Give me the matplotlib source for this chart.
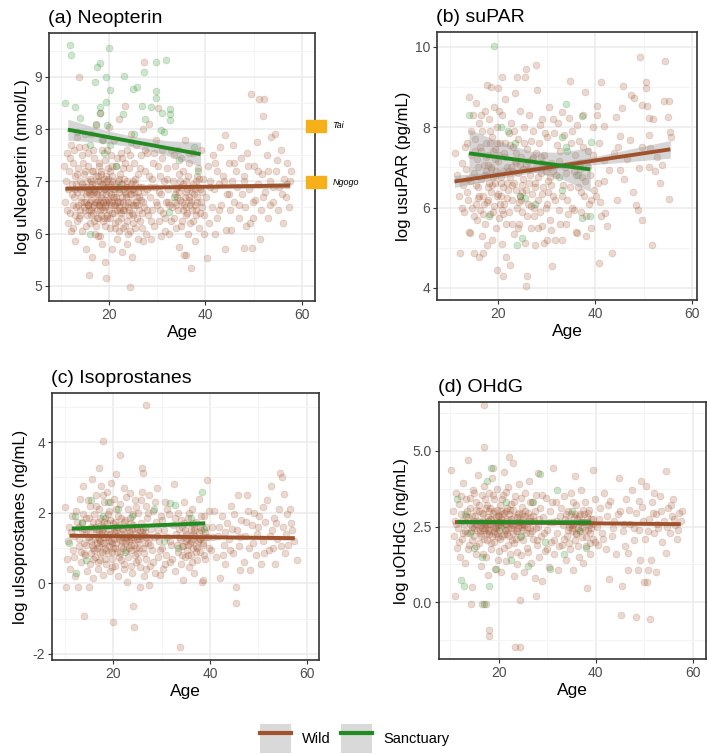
import numpy as np
import matplotlib
matplotlib.use("Agg")
import matplotlib.pyplot as plt
from matplotlib.lines import Line2D
from matplotlib.patches import Patch, Rectangle
from matplotlib.legend_handler import HandlerTuple

plt.rcParams["font.family"] = ["Liberation Sans", "DejaVu Sans"]

WILD = "#A0522D"
SANC = "#228B22"

# ---------------- (a) Neopterin ----------------
neo_wild = [
    (10.8, 7.3), (11.0, 6.6), (11.2, 7.0), (11.3, 7.55), (11.5, 6.2), (11.6, 6.85), (11.8, 7.2), (12.0, 6.4),
    (12.1, 7.7), (12.3, 6.95), (12.5, 6.1), (12.6, 7.35), (12.8, 6.7), (13.0, 5.85), (13.0, 7.1), (13.2, 6.5),
    (13.4, 7.85), (13.5, 6.8), (13.7, 7.25), (13.9, 6.3), (13.9, 9.0), (14.0, 7.0), (14.2, 6.6), (14.4, 7.5),
    (14.5, 6.05), (14.6, 6.9), (14.8, 7.15), (15.0, 6.45), (15.0, 7.65), (15.2, 6.75), (15.3, 5.7), (15.4, 7.0),
    (15.6, 6.55), (15.7, 7.3), (15.8, 5.2), (15.9, 6.85), (16.0, 6.2), (16.1, 7.05), (16.2, 7.9), (16.4, 6.65),
    (16.5, 6.95), (16.6, 5.55), (16.7, 7.2), (16.8, 6.4), (16.9, 6.8), (17.0, 7.45), (17.1, 6.0), (17.2, 6.6),
    (17.3, 7.1), (17.4, 8.1), (17.5, 6.75), (17.6, 6.3), (17.7, 7.0), (17.8, 5.95), (17.9, 6.55), (18.0, 7.3),
    (18.0, 6.85), (18.1, 8.3), (18.2, 6.45), (18.3, 7.15), (18.4, 6.7), (18.5, 5.8), (18.5, 6.95), (18.6, 7.6),
    (18.7, 6.25), (18.8, 6.6), (18.9, 7.05), (19.0, 6.9), (19.1, 6.5), (19.2, 7.4), (19.3, 5.45), (19.4, 6.75),
    (19.5, 5.15), (19.6, 7.0), (19.7, 6.35), (19.8, 6.65), (19.9, 7.25), (20.0, 6.8), (20.0, 8.05),
    (20.2, 6.1), (20.3, 6.95), (20.4, 7.5), (20.5, 6.55), (20.6, 5.7), (20.7, 7.1), (20.8, 6.7), (21.0, 6.4),
    (21.1, 7.8), (21.2, 6.85), (21.3, 6.2), (21.5, 7.3), (21.6, 6.6), (21.7, 5.9), (21.8, 7.0), (22.0, 6.5),
    (22.1, 8.2), (22.2, 6.8), (22.3, 7.15), (22.5, 6.3), (22.6, 6.95), (22.7, 5.65), (22.8, 7.45), (23.0, 6.6),
    (24.3, 4.98), (23.2, 7.05), (23.3, 6.15), (23.4, 8.45), (23.5, 6.75), (23.7, 7.6), (23.8, 5.8), (24.0, 6.9),
    (24.1, 6.45), (24.2, 7.25), (24.4, 6.05), (24.5, 7.9), (24.6, 6.6), (24.8, 5.55), (24.9, 7.0), (25.0, 6.35),
    (25.2, 7.35), (25.3, 6.8), (25.5, 6.1), (25.7, 7.7), (25.8, 6.55), (26.0, 5.9), (26.1, 7.15), (26.3, 6.7),
    (26.5, 6.25), (26.6, 7.5), (26.8, 6.9), (27.0, 5.85), (27.0, 8.0), (27.2, 9.28),
    (27.3, 6.5), (27.5, 7.2), (27.7, 6.0), (27.9, 6.85), (28.0, 7.55), (28.2, 6.35), (28.4, 8.1), (28.5, 6.7),
    (28.7, 5.9), (28.9, 7.05), (29.0, 6.45), (29.2, 7.35), (29.4, 6.15), (29.6, 6.9), (29.8, 7.8), (30.0, 6.55),
    (30.1, 8.4), (30.3, 6.25), (30.5, 7.1), (30.7, 5.95), (30.9, 6.75), (31.0, 7.45), (31.2, 6.4), (31.5, 7.0),
    (31.7, 6.05), (31.9, 6.6), (32.1, 7.25), (32.3, 6.85), (32.5, 6.0), (32.8, 7.6), (33.0, 6.5),
    (33.2, 7.0), (33.4, 6.3), (33.6, 6.75), (33.8, 7.3), (34.0, 6.1), (34.1, 6.9), (34.3, 6.45), (34.5, 7.15),
    (34.6, 5.75), (34.8, 6.65), (35.0, 7.45), (35.1, 6.25), (35.3, 6.95), (35.5, 5.6), (35.6, 6.55), (35.8, 7.8),
    (35.9, 6.8), (36.0, 5.6), (36.1, 6.4), (36.3, 7.1), (36.4, 6.0), (36.6, 6.7), (36.7, 7.35), (36.9, 6.2),
    (37.0, 5.35), (37.1, 6.9), (37.3, 6.45), (37.5, 7.55), (37.6, 6.75), (37.8, 5.85), (38.0, 7.0), (38.1, 6.35),
    (38.3, 6.6), (38.5, 7.25), (38.7, 6.1), (38.9, 6.85), (39.1, 7.6), (39.3, 6.5), (39.6, 7.05), (39.8, 6.0),
    (40.2, 6.7), (40.4, 5.53), (40.6, 7.3), (40.8, 6.2), (41.0, 7.0), (41.3, 6.5), (41.5, 7.5), (41.8, 6.85),
    (42.0, 6.0), (42.3, 7.2), (42.5, 6.3), (42.8, 6.95), (43.0, 7.65), (43.3, 6.55), (43.6, 7.1), (44.0, 7.88),
    (44.0, 5.7), (44.3, 6.06), (44.5, 6.75), (44.8, 7.35), (45.0, 6.45), (45.3, 6.06), (45.5, 7.0), (45.8, 7.7),
    (46.0, 6.6), (46.3, 7.2), (46.6, 6.9), (47.0, 6.3), (47.3, 7.45), (47.6, 6.75), (48.0, 5.72), (48.0, 7.1),
    (48.3, 6.5), (48.6, 7.55), (49.0, 6.85), (49.3, 6.2), (49.5, 8.67), (49.7, 5.72), (49.8, 6.3), (50.0, 7.3),
    (50.3, 6.65), (50.6, 7.75), (50.9, 6.95), (51.2, 8.58), (51.4, 5.9), (51.5, 6.45), (51.8, 7.15), (52.0, 8.26),
    (52.2, 8.58), (52.4, 6.8), (52.7, 7.5), (53.0, 6.3), (53.3, 7.0), (53.6, 7.85), (54.0, 6.6), (54.4, 7.91),
    (54.7, 7.2), (55.0, 6.45), (55.3, 6.9), (55.6, 7.6), (56.0, 6.2), (56.3, 7.05), (56.7, 6.7), (57.0, 7.35),
    (57.3, 6.5), (57.6, 7.0),
]
neo_wild_dense = [
    (14.3, 6.7), (14.9, 6.5), (15.1, 6.9), (15.5, 6.35), (15.8, 6.8), (16.3, 7.0), (16.6, 6.5), (16.9, 6.25),
    (17.2, 6.95), (17.5, 6.6), (17.8, 7.1), (18.1, 6.6), (18.3, 6.35), (18.6, 6.75), (18.9, 6.45), (19.2, 6.85),
    (19.5, 6.6), (19.8, 7.05), (20.1, 6.45), (20.4, 6.75), (20.7, 6.6), (21.0, 6.95), (21.4, 6.7), (21.7, 6.45),
    (22.0, 6.85), (22.4, 6.6), (22.7, 6.95), (23.1, 6.45), (23.5, 6.9), (23.9, 6.6), (24.3, 6.75), (24.7, 6.4),
    (25.1, 6.85), (25.6, 6.6), (26.2, 6.45), (26.7, 6.65), (34.2, 6.7), (34.9, 6.9), (35.4, 6.45), (36.2, 6.85),
    (36.8, 6.55), (37.4, 6.95), (38.2, 6.7), (38.8, 6.4), (12.4, 6.75), (13.1, 6.95), (13.6, 6.55), (16.0, 6.6),
    (19.0, 6.3), (21.9, 6.25), (23.7, 6.25), (17.0, 6.85), (20.3, 7.2), (22.9, 7.25), (18.4, 7.2),
    (11.4, 6.45), (11.9, 7.45), (12.2, 6.05), (12.7, 7.6), (13.3, 6.25), (13.8, 7.65), (14.1, 6.35), (14.7, 7.35),
    (15.2, 6.15), (15.6, 7.55), (16.2, 6.35), (16.8, 7.6), (17.3, 6.15), (17.9, 7.35), (18.2, 5.95), (18.7, 7.8),
    (19.3, 6.15), (19.6, 7.6), (20.2, 6.3), (20.6, 7.3), (21.2, 6.1), (21.6, 7.45), (22.1, 6.05), (22.5, 7.55),
    (23.0, 6.1), (23.4, 7.35), (23.9, 6.0), (24.4, 7.5), (24.9, 6.2), (25.4, 7.05), (25.9, 6.3), (26.4, 7.25),
    (26.9, 6.1), (27.4, 7.6), (27.8, 6.45), (28.3, 7.1), (28.8, 6.25), (29.3, 7.55), (29.7, 6.6), (30.2, 7.3),
    (30.6, 6.45), (31.1, 7.6), (31.6, 6.3), (32.0, 7.05), (32.4, 6.55), (32.9, 6.25), (33.5, 7.5), (34.0, 6.55),
    (34.4, 7.6), (34.9, 6.15), (35.4, 7.2), (35.9, 6.35), (36.5, 7.55), (37.0, 6.6), (37.5, 6.25), (38.0, 6.45),
    (38.6, 7.05), (39.2, 6.8), (39.7, 6.35), (15.3, 6.6), (16.7, 6.75), (17.6, 6.45), (19.1, 6.65), (20.9, 6.85),
    (22.3, 6.45), (23.3, 6.8), (24.6, 6.95), (25.4, 6.55), (26.0, 6.8), (27.1, 6.6), (28.6, 6.9), (30.4, 6.8),
    (32.2, 6.6), (33.9, 6.85), (35.7, 6.7), (37.8, 6.85), (12.9, 6.35), (14.0, 6.85), (18.0, 6.55), (21.3, 6.55),
    (24.0, 6.5), (19.7, 6.9), (16.4, 6.45), (22.8, 6.7),
    (40.9, 6.9), (41.9, 7.35), (42.9, 6.45), (43.9, 7.0), (44.9, 6.75), (45.9, 7.35), (46.9, 6.55), (47.9, 7.0),
    (48.9, 7.3), (49.9, 6.6), (50.9, 7.2), (51.9, 6.7), (52.9, 7.2), (53.9, 6.9), (54.9, 7.4), (55.9, 6.75),
    (56.9, 6.95), (57.7, 7.2), (48.5, 6.15), (53.4, 6.55),
    (12.6, 6.55), (13.0, 6.85), (13.5, 7.15), (14.0, 6.45), (14.4, 6.95), (14.8, 6.6), (15.1, 7.2), (15.5, 6.8),
    (15.9, 6.45), (16.2, 6.9), (16.6, 7.2), (17.0, 6.55), (17.4, 6.8), (17.7, 6.3), (18.1, 7.0), (18.5, 6.5),
    (18.9, 6.85), (19.2, 6.55), (19.6, 6.3), (20.0, 6.6), (20.3, 6.9), (20.7, 6.4), (21.1, 6.7), (21.5, 6.9),
    (21.8, 6.6), (22.2, 7.05), (22.6, 6.4), (23.0, 6.85), (23.4, 6.55), (23.8, 7.0), (24.2, 6.35), (24.6, 6.75),
    (25.0, 6.55), (25.4, 6.95), (25.8, 6.7), (26.3, 6.9), (26.8, 6.4), (27.3, 6.8), (16.0, 6.75), (18.8, 6.95),
    (21.0, 6.55), (23.6, 6.7), (17.8, 6.65), (20.6, 7.0), (22.9, 6.45), (19.4, 7.1), (15.7, 6.55), (24.8, 6.85),
    (33.6, 6.6), (34.5, 6.8), (35.2, 6.6), (35.9, 7.0), (36.5, 6.65), (37.2, 6.8), (37.9, 6.55), (38.5, 6.9),
    (39.0, 6.6), (36.0, 6.5), (34.7, 7.0), (38.3, 7.1),
]
neo_sanc = [
    (11.0, 8.5), (12.0, 9.61), (12.1, 9.42), (13.0, 8.42), (13.5, 7.95), (14.0, 8.21), (15.0, 7.9), (16.0, 7.7),
    (17.1, 8.91), (17.4, 8.08), (17.6, 9.18), (18.1, 8.3), (18.2, 8.42), (18.2, 9.26), (18.5, 7.8), (19.0, 7.55),
    (19.4, 8.52), (19.4, 9.0), (19.6, 8.08), (20.0, 9.55), (20.3, 7.7), (20.3, 8.75), (21.5, 7.3), (22.9, 8.28),
    (23.1, 9.02), (24.5, 7.75), (24.9, 8.77), (25.3, 7.91), (25.9, 8.8), (26.8, 8.45), (27.2, 9.1), (27.5, 8.2),
    (28.8, 8.42), (29.8, 8.6), (29.8, 8.73), (29.8, 9.28), (30.7, 7.98), (31.0, 8.3), (31.5, 7.95), (31.8, 9.33),
    (32.5, 6.41), (32.7, 8.18), (32.7, 8.28), (32.7, 8.38), (33.5, 6.7), (34.5, 7.4), (37.7, 7.65), (16.0, 6.0),
    (22.0, 6.9), (38.5, 7.2),
]
neo_wild_fit_age = [11, 57.5]
neo_wild_fit = [6.86, 6.92]
neo_wild_se_age = [11, 34, 57.5]
neo_wild_se = [0.05, 0.03, 0.06]
neo_sanc_fit_age = [11.5, 39]
neo_sanc_fit = [7.99, 7.52]
neo_sanc_se_age = [11.5, 18, 25, 32, 39]
neo_sanc_se = [0.2, 0.13, 0.1, 0.14, 0.23]
ref_sites = ["Tai", "Ngogo"]
ref_vals = [8.06, 6.98]

# ---------------- (b) suPAR ----------------
supar_wild = [
    (11.2, 7.35), (11.5, 6.8), (12.0, 6.3), (12.2, 4.87), (12.5, 7.1), (12.8, 6.55), (13.0, 5.9), (13.3, 6.95),
    (13.5, 7.6), (13.7, 6.2), (14.0, 8.75), (14.0, 5.4), (14.2, 5.36), (14.3, 6.65), (14.5, 7.3), (14.7, 6.0),
    (14.9, 8.3), (15.0, 6.85), (15.1, 4.87), (15.2, 7.7), (15.4, 6.1), (15.5, 8.6), (15.6, 5.7), (15.7, 7.2),
    (15.9, 6.5), (16.0, 4.78), (16.0, 8.1), (16.2, 5.95), (16.3, 7.5), (16.5, 6.7), (16.6, 5.3), (16.7, 7.9),
    (16.9, 4.87), (16.9, 6.3), (17.0, 7.05), (17.2, 8.4), (17.3, 5.6), (17.5, 6.9), (17.6, 7.6), (17.7, 5.07),
    (17.7, 9.05), (17.8, 6.15), (18.0, 7.3), (18.1, 6.6), (18.2, 8.2), (18.3, 5.85), (18.5, 7.0), (18.6, 9.0),
    (18.6, 6.4), (18.8, 5.2), (18.8, 7.75), (19.0, 6.75), (19.1, 8.5), (19.2, 6.05), (19.4, 7.45), (19.5, 5.5),
    (19.6, 6.9), (19.8, 8.0), (19.8, 4.45), (19.9, 8.97), (20.0, 6.35), (20.0, 7.15),
    (20.2, 5.75), (20.3, 7.6), (20.5, 6.6), (20.7, 9.24), (20.7, 5.1), (20.9, 8.3), (21.0, 4.29), (21.0, 6.9),
    (21.2, 7.35), (21.3, 6.1), (21.5, 8.7), (21.6, 4.78), (21.6, 5.6), (21.8, 7.0), (22.0, 6.45), (22.2, 7.85),
    (22.3, 5.9), (22.4, 4.58), (22.5, 6.75), (22.7, 8.1), (22.8, 6.2), (23.0, 7.5), (23.2, 5.35), (23.3, 6.6),
    (23.5, 8.85), (23.6, 7.1), (23.8, 9.24), (23.8, 6.0), (24.0, 7.7), (24.2, 6.85), (24.3, 5.6), (24.5, 8.4),
    (24.6, 6.3), (24.8, 7.25), (25.0, 5.9), (25.1, 6.7), (25.3, 8.0), (25.5, 9.25), (25.6, 5.12), (25.7, 6.45),
    (25.8, 9.46), (25.8, 4.04), (26.0, 4.29), (26.0, 7.45), (26.2, 6.1), (26.4, 8.3), (26.5, 6.8), (26.7, 5.5),
    (26.9, 7.2), (27.0, 6.35), (27.2, 7.9), (27.4, 5.8), (27.6, 6.6), (27.7, 5.07), (27.8, 9.55), (27.9, 7.0),
    (28.0, 8.92), (28.2, 6.2), (28.4, 7.6), (28.6, 5.9), (28.8, 6.85), (29.0, 8.2), (29.1, 5.53), (29.3, 6.5),
    (29.4, 5.11), (29.5, 7.3), (29.8, 6.0), (30.0, 7.75), (30.1, 5.2), (30.3, 6.65), (30.5, 8.5), (30.7, 5.7),
    (31.0, 7.1), (31.0, 5.45), (31.1, 4.54), (31.3, 6.3), (31.5, 7.85), (31.8, 5.2), (32.0, 6.8), (32.3, 8.1),
    (32.5, 5.95), (32.8, 7.4), (33.1, 8.39), (33.2, 5.2), (33.4, 6.55), (33.7, 7.0), (33.9, 5.6), (34.2, 6.2),
    (34.6, 8.22), (34.9, 9.16), (35.0, 7.6), (35.3, 6.0), (35.6, 6.9), (35.8, 7.3),
    (36.0, 5.4), (36.3, 8.05), (36.3, 5.36), (36.5, 6.5), (36.8, 7.1), (37.0, 5.9), (37.2, 6.75), (37.5, 7.5),
    (37.8, 6.3), (38.0, 8.88), (38.0, 6.65), (38.2, 5.3), (38.5, 7.0), (38.7, 6.1), (39.0, 6.8), (39.2, 5.5),
    (39.5, 7.3), (39.8, 6.45),
    (40.1, 6.28), (40.3, 8.3), (40.4, 8.53), (40.5, 6.6), (40.8, 7.6), (40.8, 4.62), (41.1, 6.15), (41.3, 9.13),
    (41.3, 5.78), (41.8, 8.03), (41.8, 7.19), (41.8, 6.65), (42.0, 5.86), (42.5, 5.53), (42.8, 6.94), (43.5, 4.87),
    (43.8, 7.35), (44.2, 8.26), (44.5, 6.19), (44.8, 7.52), (45.2, 7.77), (45.2, 6.94), (45.6, 8.47), (45.7, 9.03),
    (46.0, 6.7), (46.5, 7.2), (47.1, 7.68), (47.3, 8.8), (47.8, 6.4), (48.0, 8.72), (48.5, 6.07), (48.9, 5.94),
    (49.0, 6.98), (49.3, 9.75), (49.7, 5.7), (49.7, 7.52), (49.7, 8.55), (50.4, 8.97), (50.4, 9.13), (50.7, 8.53),
    (51.1, 7.02), (51.1, 7.81), (51.1, 8.22), (51.4, 7.48), (51.8, 5.07), (51.9, 8.2), (52.4, 6.9), (52.8, 7.27),
    (53.3, 6.6), (53.8, 7.06), (54.2, 8.65), (54.5, 9.64), (55.0, 8.26), (55.2, 6.21), (55.2, 8.65), (55.4, 7.89),
    (55.7, 7.75),
]
supar_wild_dense = [
    (16.5, 7.4), (17.2, 6.8), (18.0, 6.2), (18.4, 7.6), (19.3, 6.6), (20.1, 7.3), (20.6, 6.3), (21.4, 7.6),
    (22.1, 6.9), (22.9, 6.55), (23.7, 7.35), (24.4, 6.15), (25.2, 6.95), (26.3, 6.6), (27.1, 7.25), (28.3, 6.75),
    (29.2, 7.0), (30.2, 6.4), (31.4, 6.9), (32.6, 7.15), (16.1, 6.3), (17.9, 7.05), (19.7, 7.6), (21.1, 6.5),
    (23.1, 6.9), (15.4, 6.55), (20.8, 5.95), (24.9, 6.4), (26.8, 6.05), (18.7, 6.55),
    (12.5, 6.0), (13.1, 7.5), (13.8, 6.7), (14.4, 7.9), (15.0, 5.8), (15.3, 7.4), (15.8, 6.25), (16.4, 8.3),
    (16.9, 5.85), (17.4, 7.25), (17.9, 6.5), (18.3, 7.9), (18.9, 5.9), (19.3, 7.2), (19.7, 6.3), (20.2, 8.4),
    (20.6, 6.75), (21.1, 5.85), (21.5, 7.25), (21.9, 6.25), (22.4, 7.55), (22.8, 5.6), (23.3, 7.9), (23.7, 6.45),
    (24.1, 5.5), (24.6, 7.05), (25.0, 6.55), (25.4, 7.6), (25.9, 5.8), (26.3, 6.95), (26.8, 7.65), (27.3, 6.0),
    (27.8, 7.35), (28.2, 5.5), (28.7, 8.05), (29.1, 6.35), (29.6, 7.85), (30.0, 6.1), (30.4, 7.0), (30.9, 6.55),
    (31.3, 8.2), (31.8, 6.2), (32.2, 7.55), (32.7, 5.6), (33.1, 6.3), (33.6, 7.8), (34.0, 6.85), (34.4, 5.85),
    (34.8, 6.5), (35.2, 7.9), (35.7, 5.95), (36.1, 6.8), (36.6, 7.65), (37.0, 6.4), (37.6, 8.3), (38.1, 5.8),
    (38.6, 7.4), (39.1, 6.2), (39.6, 8.0), (15.9, 7.0), (17.1, 6.1), (18.6, 6.95), (20.4, 6.1), (21.8, 6.6),
    (23.4, 7.15), (24.8, 6.2), (26.1, 7.15), (27.5, 6.5), (28.9, 7.25), (30.6, 6.75), (13.5, 6.4), (19.0, 7.4),
    (22.6, 7.0), (25.7, 7.05), (29.8, 6.9), (36.9, 6.95),
]
supar_sanc = [
    (19.1, 10.02), (14.0, 8.3), (20.5, 8.0), (22.0, 7.9), (23.5, 7.6), (24.9, 5.24), (23.8, 5.07), (24.5, 6.3),
    (25.5, 6.25), (27.5, 6.1), (33.2, 6.44), (33.9, 8.59), (33.9, 7.52), (34.3, 7.4), (36.5, 6.8), (37.2, 5.74),
    (37.2, 8.28), (39.0, 5.78), (39.2, 7.64), (33.2, 7.76), (18.2, 5.78), (29.0, 7.1), (32.5, 6.75),
]
supar_wild_fit_age = [11, 55.5]
supar_wild_fit = [6.65, 7.45]
supar_wild_se_age = [11, 20, 30, 40, 55.5]
supar_wild_se = [0.15, 0.09, 0.07, 0.1, 0.22]
supar_sanc_fit_age = [14, 39]
supar_sanc_fit = [7.35, 6.95]
supar_sanc_se_age = [14, 20, 27, 33, 39]
supar_sanc_se = [0.6, 0.4, 0.25, 0.33, 0.55]

# ---------------- (c) Isoprostanes ----------------
iso_wild = [
    (10.0, 2.15), (10.3, -0.1), (10.5, 0.7), (10.8, 1.2), (11.0, 1.6), (11.2, 0.4), (11.5, 1.9), (11.7, 0.95),
    (12.0, 1.35), (12.2, 0.2), (12.5, 1.75), (12.8, -0.1), (12.9, 1.05), (13.2, 2.4), (13.4, 0.6), (13.6, 1.5),
    (13.8, 2.75), (14.0, 1.15), (14.1, -0.93), (14.3, 0.8), (14.5, 1.85), (14.7, 0.35),
    (15.0, -0.1), (15.0, 1.3), (15.2, 2.2), (15.3, 0.55), (15.5, 1.6), (15.6, 2.95), (15.8, 1.0), (15.9, 0.15),
    (16.0, 1.95), (16.2, 1.25), (16.3, 0.75), (16.5, 2.5), (16.6, 1.45), (16.8, 0.4), (16.9, 1.75), (17.0, 1.05),
    (17.2, 3.26), (17.2, 2.1), (17.3, 0.65), (17.5, 1.4), (17.6, 2.75), (17.7, 0.9), (17.9, 4.02), (17.9, 1.6),
    (18.0, 0.25), (18.1, 2.3), (18.2, 1.15), (18.4, 1.85), (18.5, 0.55), (18.6, 1.3), (18.8, 2.6), (18.9, 0.85),
    (19.0, 1.55), (19.2, 2.05), (19.3, 0.35), (19.5, 1.2), (19.6, 2.85), (19.7, 0.7), (19.9, 1.7), (20.0, -1.08),
    (20.0, 1.0),
    (20.2, 2.4), (20.3, 0.5), (20.5, 1.45), (20.6, 3.1), (20.8, 0.9), (21.0, 1.9), (21.1, 0.2), (21.3, 1.25),
    (21.4, 3.64), (21.5, 2.25), (21.7, 0.65), (21.9, 1.55), (22.0, 1.0), (22.2, 2.7), (22.3, 0.4), (22.5, 1.8),
    (22.7, 1.2), (22.8, 0.05), (23.0, 2.1), (23.1, 0.75), (23.3, 1.5), (23.5, 2.55), (23.6, 0.95), (23.8, 1.3),
    (24.0, 0.3), (24.1, -0.65), (24.2, 1.95), (24.3, -1.24), (24.4, 1.1), (24.6, 2.35), (24.7, 0.6), (24.9, 1.6),
    (25.0, 0.85), (25.2, 2.0), (25.4, 1.25), (25.5, -0.1), (25.6, 0.45), (25.8, 1.7), (25.9, 3.28), (26.0, 2.6),
    (26.2, 3.12), (26.2, 1.0), (26.4, 0.2), (26.6, 1.45), (26.7, 2.2), (26.9, 5.06), (26.9, 0.7), (27.0, 1.85),
    (27.2, 1.15), (27.4, -0.05), (27.5, 2.5), (27.7, 0.5), (27.9, 1.55), (28.1, 0.95), (28.3, 2.05), (28.5, 1.3),
    (28.7, 0.3), (28.9, 1.75), (29.1, 2.7), (29.3, 0.75), (29.5, 1.2), (29.7, 0.25), (29.9, 1.9), (30.1, 1.0),
    (30.3, 0.4), (30.5, 1.5), (30.7, 2.3), (31.0, 0.8), (31.2, 1.3), (31.5, 1.95), (31.8, 0.6), (32.0, 1.1),
    (32.3, 1.65), (32.6, 2.82), (32.8, 0.35), (33.0, 1.4),
    (33.3, 0.9), (33.5, 2.0), (33.8, -1.81), (33.8, 1.25), (34.0, 0.55), (34.2, 1.6), (34.4, 0.1), (34.5, 1.05),
    (34.7, 2.3), (34.9, 0.75), (35.0, 1.4), (35.2, 0.95), (35.4, 1.85), (35.6, 0.45), (35.8, 1.15), (36.0, 1.55),
    (36.1, 0.8), (36.3, 2.1), (36.5, 1.0), (36.7, 0.3), (36.9, 1.35), (37.1, 1.75), (37.3, 0.65), (37.5, 1.2),
    (37.7, 2.4), (37.9, 0.9), (38.1, 1.5), (38.3, 0.05), (38.5, 1.1), (38.6, 0.1), (38.8, 1.9), (39.0, 0.7),
    (39.3, 2.93), (39.5, 1.3), (39.8, 2.05),
    (40.2, 0.95), (40.5, 1.6), (40.9, 2.05), (41.3, 0.75), (41.7, 1.35), (42.1, 0.15), (42.4, 1.9), (42.8, 1.1),
    (43.2, 0.55), (43.6, 1.7), (44.0, 1.25), (44.4, 2.2), (44.8, 0.85), (45.3, -0.1), (45.3, -0.56), (45.5, 1.5),
    (45.7, 2.51), (46.0, 1.05), (46.2, 0.39), (46.5, 1.8), (47.0, 0.6), (47.3, 1.35), (47.6, 2.51), (48.0, 1.0),
    (48.3, 0.39), (48.6, 1.65), (49.0, 2.0), (49.4, 0.8), (49.8, 1.4), (50.2, 1.9), (50.6, 0.55), (51.0, 1.2),
    (51.4, 1.75), (51.7, 2.37), (52.1, 0.95), (52.6, 2.77), (52.9, 1.5), (53.2, 1.85), (53.4, 0.56), (53.8, 1.25),
    (54.2, 2.1), (54.5, 3.12), (54.8, 3.02), (55.0, 1.6), (55.2, 2.54), (55.5, 0.86), (55.8, 1.95), (56.2, 1.1),
    (56.6, 2.1), (57.0, 1.5), (57.4, 1.2), (57.9, 0.67),
]
iso_wild_dense = [
    (14.8, 1.3), (15.7, 1.1), (16.4, 1.55), (17.1, 1.25), (17.8, 1.45), (18.3, 1.0), (18.7, 1.7), (19.4, 1.4),
    (19.8, 1.15), (20.4, 1.75), (20.9, 1.35), (21.6, 1.05), (22.1, 1.5), (22.6, 1.3), (23.2, 1.0), (23.7, 1.7),
    (24.5, 1.4), (25.1, 1.2), (25.7, 1.35), (26.5, 1.15), (16.0, 0.95), (18.9, 1.95), (21.2, 1.65), (23.9, 1.55),
    (34.6, 1.3), (35.5, 1.1), (36.4, 1.4), (37.2, 1.05), (38.0, 1.25), (38.9, 1.45), (17.4, 1.85), (20.1, 1.6),
    (22.4, 1.15), (24.8, 1.0),
    (11.3, 1.45), (11.9, 0.75), (12.4, 2.05), (12.9, 1.6), (13.3, 0.9), (13.9, 1.95), (14.4, 1.1), (14.9, 2.35),
    (15.4, 0.85), (15.9, 1.75), (16.4, 2.2), (16.9, 0.6), (17.4, 1.2), (17.9, 2.5), (18.4, 0.7), (18.8, 1.4),
    (19.3, 2.3), (19.7, 0.45), (20.2, 1.25), (20.7, 2.1), (21.2, 0.75), (21.7, 1.85), (22.2, 0.55), (22.7, 2.45),
    (23.2, 1.2), (23.7, 0.5), (24.2, 1.65), (24.7, 2.15), (25.2, 0.65), (25.7, 2.35), (26.2, 1.55), (26.7, 0.4),
    (27.2, 2.0), (27.7, 1.3), (28.2, 0.6), (28.7, 2.3), (29.2, 1.5), (29.7, 0.95), (30.2, 1.8), (30.7, 0.55),
    (31.2, 2.1), (31.7, 1.2), (32.2, 0.7), (32.7, 1.85), (33.2, 1.1), (33.7, 1.55), (34.2, 0.8), (34.7, 1.7),
    (35.2, 1.25), (35.7, 2.0), (36.2, 0.6), (36.7, 1.6), (37.2, 0.9), (37.7, 1.45), (38.2, 1.9), (38.7, 0.8),
    (39.2, 1.6), (39.7, 1.0), (15.2, 1.45), (16.7, 1.15), (17.6, 1.65), (19.1, 1.05), (20.6, 1.5), (22.0, 1.3),
    (23.4, 1.45), (24.9, 1.25), (26.3, 1.35), (27.6, 1.1), (29.0, 1.35), (35.0, 1.2), (36.6, 1.25), (38.4, 1.3),
    (14.0, 1.55), (18.0, 1.3), (21.8, 1.2), (25.5, 1.5),
    (40.7, 1.3), (41.9, 1.6), (43.0, 1.45), (44.2, 0.95), (45.0, 1.95), (46.3, 1.3), (47.5, 1.75), (48.8, 1.15),
    (50.0, 1.6), (51.2, 0.85), (52.3, 1.35), (53.6, 1.7), (54.6, 1.05), (55.6, 1.4), (56.8, 1.7), (50.9, 2.15),
    (47.9, 2.05), (44.6, 1.55), (42.6, 0.8), (53.0, 1.0),
    (13.0, 1.25), (13.5, 1.75), (14.0, 0.85), (14.5, 1.5), (15.0, 1.85), (15.4, 1.2), (15.8, 0.7), (16.2, 1.6),
    (16.6, 1.0), (17.0, 1.45), (17.4, 0.85), (17.8, 1.15), (18.2, 1.75), (18.6, 0.95), (19.0, 1.3), (19.4, 1.8),
    (19.8, 0.9), (20.2, 1.45), (20.6, 1.15), (21.0, 1.6), (21.4, 0.85), (21.8, 1.4), (22.2, 1.75), (22.6, 0.95),
    (23.0, 1.35), (23.4, 1.85), (23.8, 1.1), (24.2, 1.3), (24.6, 0.8), (25.0, 1.55), (25.4, 1.0), (25.9, 1.45),
    (26.4, 0.85), (26.9, 1.3), (16.8, 1.3), (19.2, 1.2), (21.6, 1.3), (23.6, 1.25), (18.0, 1.55), (20.4, 1.0),
    (22.8, 1.6), (25.2, 1.35), (33.6, 1.3), (34.3, 1.05), (34.9, 1.5), (35.5, 0.8), (36.1, 1.2), (36.8, 1.5),
    (37.4, 1.0), (38.0, 1.6), (38.6, 1.15), (39.2, 1.3), (35.8, 1.35), (37.7, 1.25), (34.0, 1.8), (36.5, 1.7),
]
iso_sanc = [
    (12.1, 1.92), (17.9, 1.92), (11.0, 1.14), (12.4, 0.3), (13.5, 1.7), (15.5, 2.35), (19.0, 2.3), (21.0, 2.1),
    (24.0, 1.9), (26.5, 1.6), (28.5, 2.1), (31.7, 2.27), (32.8, 2.23), (30.5, 1.2), (33.5, 1.0), (36.0, 1.85),
    (38.3, 2.6), (38.8, 1.55), (14.5, 0.65), (22.5, 0.9),
]
iso_wild_fit_age = [11, 57.5]
iso_wild_fit = [1.35, 1.28]
iso_wild_se_age = [11, 34, 57.5]
iso_wild_se = [0.05, 0.03, 0.06]
iso_sanc_fit_age = [11.5, 39]
iso_sanc_fit = [1.55, 1.70]
iso_sanc_se_age = [11.5, 25, 39]
iso_sanc_se = [0.08, 0.05, 0.08]

# ---------------- (d) OHdG ----------------
ohdg_wild = [
    (10.2, 4.37), (10.5, 3.0), (10.8, 2.2), (11.0, 0.19), (11.0, 2.7), (11.2, 3.6), (11.4, 1.8), (11.6, 2.45),
    (11.8, 3.25), (12.0, 1.5), (12.2, 2.9), (12.4, 2.1), (12.6, 3.95), (12.8, 2.6), (13.0, 1.3), (13.2, 3.4),
    (13.4, 2.3), (13.6, 4.7), (13.7, 2.8), (13.9, 1.9), (14.1, 3.1), (14.3, -0.06), (14.4, 2.5), (14.6, 0.5),
    (14.8, 3.7),
    (15.0, 2.2), (15.1, 2.85), (15.3, 1.6), (15.4, 3.3), (15.6, 2.55), (15.8, 4.2), (15.9, 1.95), (16.0, 3.0),
    (16.2, 2.35), (16.3, 1.2), (16.5, 3.55), (16.6, -0.06), (16.7, 2.7), (16.9, 6.52), (16.9, 5.12), (16.9, 2.1),
    (17.0, 3.85), (17.2, 2.45), (17.4, -0.06), (17.4, 1.5), (17.5, 3.2), (17.7, 2.8), (17.8, 0.9), (18.0, -0.91),
    (18.0, -1.13), (18.0, 2.25), (18.1, 3.6), (18.3, 2.6), (18.5, 1.75), (18.6, 4.1), (18.8, 4.43), (18.8, 2.95),
    (19.0, 2.0), (19.1, 3.4), (19.3, 1.1), (19.4, 2.5), (19.6, 3.75), (19.7, 2.3), (19.9, 1.4), (20.0, 2.85),
    (20.2, 3.2), (20.3, 2.1), (20.5, 1.0), (20.6, 2.65), (20.8, 3.55), (21.0, 1.8), (21.1, 4.3), (21.3, 2.4),
    (21.5, 3.0), (21.6, 1.35), (21.8, 2.75), (22.0, 3.8), (22.2, 4.79), (22.2, 2.2), (22.4, 1.6), (22.6, 3.25),
    (22.9, 4.59), (22.9, 2.55), (23.1, 0.85), (23.2, 1.95), (23.4, -1.49), (23.4, 3.5), (23.6, 2.35), (23.8, 1.25),
    (24.0, 2.9), (24.2, 3.9), (24.3, -1.49), (24.4, 0.08), (24.4, 2.15), (24.6, 1.55), (24.8, 3.15), (25.0, 2.6),
    (25.2, 1.0), (25.4, 3.6), (25.6, 2.3), (25.8, 1.8), (26.0, 2.95), (26.2, 4.0), (26.4, 2.45), (26.6, 1.3),
    (26.8, 3.3), (27.0, 2.1),
    (27.2, 2.7), (27.4, 0.8), (27.6, 3.55), (27.7, 0.19), (27.8, 1.9), (28.0, 4.26), (28.0, 2.5), (28.3, 1.5),
    (28.5, 3.1), (28.8, 2.2), (29.0, 0.7), (29.2, 2.8), (29.5, 1.7), (29.8, 3.45), (30.0, 2.4), (30.3, 1.15),
    (30.5, 3.0), (30.8, 2.0), (31.1, 4.45), (31.1, 2.65), (31.4, 1.6), (31.7, 3.3), (32.0, 2.3), (32.3, 1.05),
    (32.6, 2.85), (33.0, 1.9),
    (33.3, 2.55), (33.5, 3.5), (33.8, 1.4), (34.0, 2.2), (34.2, 3.0), (34.5, 2.5), (34.7, 1.75), (34.9, 3.6),
    (35.1, 2.35), (35.3, 1.05), (35.5, 2.8), (35.8, 4.17), (35.8, 2.05), (36.0, 3.2), (36.3, 2.45), (36.5, 1.5),
    (36.7, 2.9), (37.0, 3.7), (37.2, 2.15), (37.4, 1.3), (37.6, 2.65), (37.8, 3.3), (38.0, 1.85), (38.2, 0.46),
    (38.4, 2.4), (38.6, 3.05), (38.8, 1.6), (39.0, 2.75), (39.4, 4.37), (39.5, 2.1), (39.8, 3.4),
    (40.2, 2.5), (40.5, 1.9), (40.8, 3.1), (41.2, 2.3), (41.6, 3.6), (42.0, 1.75), (42.4, 2.85), (42.8, 0.76),
    (43.0, 3.35), (43.4, 2.2), (43.8, 2.7), (44.2, 1.6), (44.7, 4.12), (45.0, 3.0), (45.1, -0.42), (45.4, 0.55),
    (45.5, 2.35), (46.0, 1.85), (46.3, 3.4), (46.6, 1.07), (46.6, 1.62), (47.0, 2.6), (47.4, 3.7), (47.8, 2.05),
    (48.3, -0.5), (48.3, 2.95), (48.7, 1.07), (49.0, 2.4), (49.2, 1.4), (49.3, 4.02), (49.6, 3.15), (49.9, 0.66),
    (50.2, 2.1), (50.4, 3.85), (50.6, 0.66), (50.7, 1.07), (51.0, 2.75), (51.1, -0.56), (51.4, 1.4), (51.5, 3.3),
    (51.9, 2.3), (52.4, 1.01), (52.5, 2.9), (52.9, 2.45), (53.3, 3.5), (53.7, 2.0), (54.1, 2.7), (54.4, 1.64),
    (54.5, 4.34), (54.8, 3.1), (55.2, 2.3), (55.6, 2.85), (56.0, 3.4), (56.4, 2.55), (56.8, 2.1), (57.2, 2.95),
    (57.6, 2.7),
]
ohdg_wild_dense = [
    (14.9, 2.7), (15.5, 2.4), (16.1, 2.65), (16.8, 2.9), (17.3, 2.6), (17.9, 2.4), (18.4, 2.75), (18.9, 2.5),
    (19.5, 2.8), (20.1, 2.4), (20.7, 2.9), (21.2, 2.6), (21.9, 2.45), (22.5, 2.75), (23.0, 2.3), (23.7, 2.8),
    (24.3, 2.55), (25.1, 2.75), (25.9, 2.5), (26.7, 2.7), (16.4, 2.2), (18.2, 3.1), (19.9, 2.15), (21.7, 3.1),
    (23.5, 2.1), (34.3, 2.7), (35.0, 2.45), (36.1, 2.75), (37.1, 2.5), (38.1, 2.8), (38.9, 2.3), (17.6, 2.05),
    (20.4, 3.0), (24.7, 2.9),
    (11.3, 2.6), (11.8, 2.0), (12.3, 3.5), (12.7, 2.3), (13.2, 2.85), (13.6, 1.75), (14.0, 3.45), (14.5, 2.05),
    (15.0, 3.6), (15.4, 1.85), (15.9, 3.2), (16.3, 2.55), (16.7, 1.6), (17.1, 3.4), (17.6, 2.3), (18.0, 3.0),
    (18.4, 1.95), (18.8, 3.55), (19.3, 2.25), (19.7, 3.05), (20.1, 1.7), (20.6, 3.4), (21.0, 2.25), (21.4, 3.65),
    (21.9, 1.9), (22.3, 3.05), (22.8, 2.05), (23.2, 3.3), (23.7, 1.65), (24.1, 2.7), (24.6, 3.45), (25.0, 2.05),
    (25.5, 2.85), (26.0, 1.65), (26.4, 3.3), (26.9, 2.35), (27.4, 3.0), (27.9, 2.05), (28.4, 2.75), (28.9, 3.55),
    (29.4, 2.3), (29.9, 1.75), (30.4, 2.65), (30.9, 3.3), (31.4, 2.05), (31.9, 2.7), (32.4, 1.85), (32.9, 3.1),
    (33.4, 2.1), (33.9, 2.9), (34.4, 1.95), (34.9, 2.6), (35.4, 3.3), (35.9, 2.25), (36.4, 1.85), (36.9, 2.65),
    (37.4, 3.05), (37.9, 2.15), (38.4, 2.95), (38.9, 1.95), (39.4, 2.6), (39.9, 2.0), (15.2, 2.6), (16.6, 2.45),
    (17.8, 2.7), (19.0, 2.35), (20.3, 2.65), (21.5, 2.4), (22.7, 2.55), (24.0, 2.45), (25.3, 2.55), (26.5, 2.8),
    (27.7, 2.45), (35.2, 2.6), (36.8, 2.35), (38.6, 2.55), (14.3, 2.35), (19.8, 2.55), (23.9, 2.65), (17.0, 2.4),
    (40.6, 2.75), (41.5, 2.1), (42.6, 3.2), (43.6, 2.45), (44.5, 2.9), (45.8, 2.6), (46.9, 3.05), (47.9, 2.45),
    (48.9, 3.35), (49.8, 2.7), (50.8, 2.35), (51.7, 2.95), (52.7, 2.6), (53.5, 3.0), (54.6, 2.5), (55.4, 3.2),
    (56.2, 2.75), (57.0, 2.4), (57.8, 3.0), (52.0, 3.6),
    (12.5, 2.7), (13.0, 2.35), (13.5, 3.0), (14.0, 2.6), (14.5, 2.85), (15.0, 2.45), (15.4, 3.05), (15.8, 2.7),
    (16.2, 2.3), (16.6, 2.95), (17.0, 2.65), (17.4, 3.1), (17.8, 2.35), (18.2, 2.75), (18.6, 2.2), (19.0, 3.0),
    (19.4, 2.65), (19.8, 2.85), (20.2, 2.55), (20.6, 2.2), (21.0, 2.95), (21.4, 2.7), (21.8, 2.25), (22.2, 2.9),
    (22.6, 2.45), (23.0, 3.05), (23.4, 2.6), (23.8, 2.35), (24.2, 2.95), (24.6, 2.65), (25.0, 2.4), (25.5, 3.0),
    (26.0, 2.7), (26.5, 2.3), (27.0, 2.85), (16.9, 2.55), (19.2, 2.45), (21.6, 2.6), (23.2, 2.8), (18.0, 2.6),
    (20.4, 2.75), (22.4, 2.65), (24.8, 2.5), (33.6, 2.75), (34.2, 2.4), (34.8, 2.9), (35.4, 2.55), (36.0, 2.3),
    (36.6, 2.85), (37.2, 2.65), (37.8, 2.4), (38.4, 2.65), (39.0, 2.45), (35.7, 2.9), (37.5, 2.9), (39.5, 2.75),
]
ohdg_sanc = [
    (12.2, 0.74), (12.9, 0.52), (18.1, 0.52), (17.0, -0.06), (11.5, 3.4), (13.0, 2.9), (15.0, 1.8), (16.5, 1.5),
    (17.5, 4.0), (18.5, 4.45), (19.5, 1.1), (20.5, 2.5), (21.5, 3.3), (22.5, 1.4), (24.5, 2.2), (26.0, 1.2),
    (27.0, 3.3), (28.5, 4.25), (29.5, 2.0), (30.5, 1.1), (32.0, 3.7), (33.5, 1.6), (35.0, 3.0), (36.5, 2.4),
    (38.0, 1.8), (14.0, 2.3),
]
ohdg_wild_fit_age = [11, 57.5]
ohdg_wild_fit = [2.65, 2.58]
ohdg_wild_se_age = [11, 34, 57.5]
ohdg_wild_se = [0.05, 0.03, 0.06]
ohdg_sanc_fit_age = [11.5, 39]
ohdg_sanc_fit = [2.65, 2.64]
ohdg_sanc_se_age = [11.5, 25, 39]
ohdg_sanc_se = [0.1, 0.06, 0.12]

W, H = 709, 754
fig = plt.figure(figsize=(W / 100, H / 100), dpi=100)


def px_axes(left, top, right, bottom):
    return fig.add_axes([left / W, 1 - bottom / H, (right - left) / W, (bottom - top) / H])


def panel(ax, title, ylabel, wild, sanc, wfit, sfit, xlim, ylim, yticks, ylabels, yminor):
    for pts, col in ((wild, WILD), (sanc, SANC)):
        a = np.array(pts)
        ax.scatter(a[:, 0], a[:, 1], s=24, facecolor=col, edgecolor=col, linewidth=0.6,
                   alpha=0.22, zorder=2)
    for (fa, fv, sa, se), col in ((wfit, WILD), (sfit, SANC)):
        xs = np.linspace(fa[0], fa[1], 50)
        ys = np.interp(xs, fa, fv)
        hw = np.interp(xs, sa, se)
        ax.fill_between(xs, ys - hw, ys + hw, color="#999999", alpha=0.4, linewidth=0, zorder=3)
    for (fa, fv, sa, se), col in ((wfit, WILD), (sfit, SANC)):
        ax.plot(fa, fv, color=col, linewidth=2.8, solid_capstyle="butt", zorder=4)
    ax.set_xlim(*xlim)
    ax.set_ylim(*ylim)
    ax.set_xticks([20, 40, 60])
    ax.set_xticks([10, 30, 50], minor=True)
    ax.set_yticks(yticks)
    ax.set_yticklabels(ylabels)
    ax.set_yticks(yminor, minor=True)
    ax.grid(which="major", color="#EBEBEB", linewidth=1.1, zorder=0)
    ax.grid(which="minor", color="#F3F3F3", linewidth=0.6, zorder=0)
    ax.set_axisbelow(True)
    ax.tick_params(which="major", length=3, color="#333333", labelsize=10, labelcolor="#4D4D4D", pad=2)
    ax.tick_params(which="minor", length=0)
    for sp in ax.spines.values():
        sp.set_color("#333333")
        sp.set_linewidth(1.2)
    ax.set_xlabel("Age", fontsize=12.5, labelpad=2)
    ax.set_ylabel(ylabel, fontsize=12, labelpad=3)
    ax.set_title(title, loc="left", fontsize=14, pad=7, x=-0.005)


ax_a = px_axes(49, 33, 315, 301)
panel(ax_a, "(a) Neopterin", "log uNeopterin (nmol/L)", neo_wild + neo_wild_dense, neo_sanc,
      (neo_wild_fit_age, neo_wild_fit, neo_wild_se_age, neo_wild_se),
      (neo_sanc_fit_age, neo_sanc_fit, neo_sanc_se_age, neo_sanc_se),
      (7.6, 62.7), (4.71, 9.84), [5, 6, 7, 8, 9], ["5", "6", "7", "8", "9"], [5.5, 6.5, 7.5, 8.5, 9.5])
for site, val in zip(ref_sites, ref_vals):
    ax_a.add_patch(Rectangle((60.8, val - 0.115), 4.1, 0.23, color="#F5B01A", clip_on=False, zorder=6))
    ax_a.text(66.3, val, site, fontsize=6.5, style="italic", va="center", ha="left", clip_on=False)

ax_b = px_axes(437, 32, 697, 300)
panel(ax_b, "(b) suPAR", "log usuPAR (pg/mL)", supar_wild + supar_wild_dense, supar_sanc,
      (supar_wild_fit_age, supar_wild_fit, supar_wild_se_age, supar_wild_se),
      (supar_sanc_fit_age, supar_sanc_fit, supar_sanc_se_age, supar_sanc_se),
      (7.4, 61.0), (3.7, 10.37), [4, 6, 8, 10], ["4", "6", "8", "10"], [5, 7, 9])

ax_c = px_axes(52, 393, 319, 660)
panel(ax_c, "(c) Isoprostanes", "log uIsoprostanes (ng/mL)", iso_wild + iso_wild_dense, iso_sanc,
      (iso_wild_fit_age, iso_wild_fit, iso_wild_se_age, iso_wild_se),
      (iso_sanc_fit_age, iso_sanc_fit, iso_sanc_se_age, iso_sanc_se),
      (7.4, 62.5), (-2.17, 5.39), [-2, 0, 2, 4], ["-2", "0", "2", "4"], [-1, 1, 3, 5])

ax_d = px_axes(439, 402, 706, 659)
panel(ax_d, "(d) OHdG", "log uOHdG (ng/mL)", ohdg_wild + ohdg_wild_dense, ohdg_sanc,
      (ohdg_wild_fit_age, ohdg_wild_fit, ohdg_wild_se_age, ohdg_wild_se),
      (ohdg_sanc_fit_age, ohdg_sanc_fit, ohdg_sanc_se_age, ohdg_sanc_se),
      (7.7, 62.7), (-1.88, 6.62), [0.0, 2.5, 5.0], ["0.0", "2.5", "5.0"], [-1.25, 1.25, 3.75, 6.25])

handles = [
    (Patch(facecolor="#D9D9D9", edgecolor="none"), Line2D([], [], color=WILD, linewidth=3)),
    (Patch(facecolor="#D9D9D9", edgecolor="none"), Line2D([], [], color=SANC, linewidth=3)),
]
fig.legend(handles, ["Wild", "Sanctuary"], loc="center", bbox_to_anchor=(0.5, 0.021),
           ncol=2, frameon=False, fontsize=10.5, handlelength=2.1, handleheight=2.7,
           handletextpad=0.75, columnspacing=0.75, borderpad=0.2,
           handler_map={tuple: HandlerTuple(ndivide=1, pad=0)})

fig.savefig("out.png", dpi=100)
